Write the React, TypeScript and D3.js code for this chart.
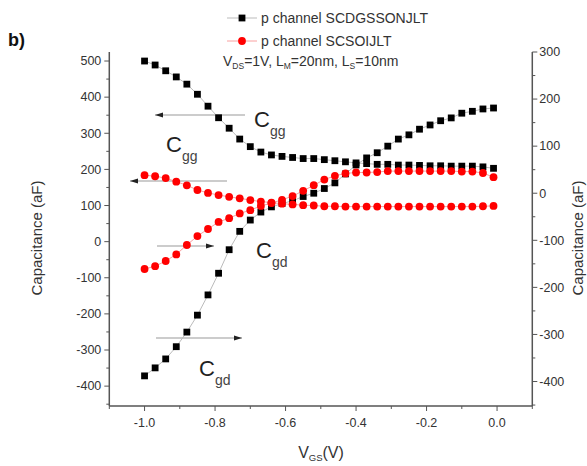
import React from "react";
import * as d3 from "d3";

// Gate voltage sweep (V)
const vgs = [
  -1.0, -0.97, -0.94, -0.91, -0.88, -0.85, -0.82, -0.79, -0.76, -0.73, -0.7, -0.67,
  -0.64, -0.61, -0.58, -0.55, -0.52, -0.49, -0.46, -0.43, -0.4, -0.37, -0.34, -0.31,
  -0.28, -0.25, -0.22, -0.19, -0.16, -0.13, -0.1, -0.07, -0.04, -0.01,
];

// Cgg (left axis, aF)
const cggDG = [
  500, 489, 473, 456, 436, 408, 375, 343, 314, 284, 263, 248, 240, 236, 233, 230, 230,
  227, 224, 221, 218, 216, 214, 214, 212, 212, 211, 210, 210, 209, 209, 209, 207, 203,
];
const cggSOI = [
  184, 181, 176, 166, 156, 143, 135, 129, 124, 120, 115, 111, 108, 105, 103, 101, 100,
  98, 98, 97, 97, 97, 97, 97, 97, 97, 97, 97, 97, 97, 97, 97, 98, 99,
];

// Cgd (right axis, aF)
const cgdDG = [
  -388, -371, -352, -326, -295, -259, -216, -170, -120, -81, -57, -40, -29, -22, -16, -7,
  0, 10, 22, 41, 60, 75, 86, 100, 115, 124, 136, 145, 154, 160, 170, 174, 179, 181,
];
const cgdSOI = [
  -161, -155, -144, -130, -110, -91, -76, -61, -53, -43, -36, -27, -21, -14, -6, 5, 17,
  29, 37, 42, 44, 44, 45, 47, 47, 47, 47, 47, 47, 47, 46, 46, 43, 34,
];

const xTicks = [-1.0, -0.8, -0.6, -0.4, -0.2, 0.0];
const leftTicks = [-400, -300, -200, -100, 0, 100, 200, 300, 400, 500];
const rightTicks = [-400, -300, -200, -100, 0, 100, 200, 300];
const legendNames = ["p channel SCDGSSONJLT", "p channel SCSOIJLT"];

const W = 587;
const H = 466;
const FONT = "Liberation Sans, Arial, sans-serif";
const TXT = "#333";
const AX = "#555";

export default function App() {
  const x = d3.scaleLinear().domain([-1.1, 0.1]).range([109.3, 532.3]);
  const yL = d3.scaleLinear().domain([-455, 525]).range([406, 52]);
  const yR = d3.scaleLinear().domain([-452, 300]).range([406, 52]);
  const top = 52;
  const bottom = 406;
  const left = x.range()[0];
  const right = x.range()[1];

  const mkLine = (ys: number[], sc: d3.ScaleLinear<number, number>) =>
    d3.line<number>().x((_, i) => x(vgs[i])).y((v) => sc(v))(ys) || "";

  const xMinor = d3.range(-11, 2).map((k) => k / 10);
  const lMinor = d3.range(-450, 526, 50);
  const rMinor = d3.range(-450, 301, 50);

  const squares = (ys: number[], sc: d3.ScaleLinear<number, number>) =>
    ys.map((v, i) => (
      <rect key={i} x={x(vgs[i]) - 3.4} y={sc(v) - 3.4} width={6.8} height={6.8} fill="#000" />
    ));
  const dots = (ys: number[], sc: d3.ScaleLinear<number, number>) =>
    ys.map((v, i) => <circle key={i} cx={x(vgs[i])} cy={sc(v)} r={3.9} fill="#f00" />);

  const arrow = (x1: number, x2: number, yy: number, dir: "left" | "right") => {
    const hx = dir === "left" ? x1 : x2;
    const s = dir === "left" ? 1 : -1;
    return (
      <g>
        <line x1={x1} x2={x2} y1={yy} y2={yy} stroke="#999" strokeWidth={1} />
        <path d={`M${hx},${yy} L${hx + s * 8},${yy - 2.5} L${hx + s * 8},${yy + 2.5} Z`} fill="#222" />
      </g>
    );
  };

  const cLabel = (cx: number, cy: number, sub: string) => (
    <text x={cx} y={cy} fontFamily={FONT} fill="#222" fontSize={22}>
      C
      <tspan fontSize={14} dy={9} fill="#444">
        {sub}
      </tspan>
    </text>
  );

  return (
    <svg width={W} height={H} style={{ position: "absolute", left: 0, top: 0, background: "#fff" }}>
      <text x={8} y={46} fontFamily={FONT} fontWeight="bold" fontSize={18} fill="#111">
        b)
      </text>

      {/* legend */}
      <g fontFamily={FONT} fontSize={14} fill={TXT}>
        <line x1={227} x2={257} y1={18} y2={18} stroke="#bbb" strokeWidth={1} />
        <rect x={238.6} y={14.6} width={6.8} height={6.8} fill="#000" />
        <text x={261} y={23}>{legendNames[0]}</text>
        <line x1={227} x2={257} y1={41} y2={41} stroke="#f9a0a0" strokeWidth={1} />
        <circle cx={242} cy={41} r={3.9} fill="#f00" />
        <text x={261} y={46}>{legendNames[1]}</text>
        <text x={223} y={66}>
          V<tspan fontSize={8.5} dy={3}>DS</tspan>
          <tspan dy={-3}>=1V, L</tspan>
          <tspan fontSize={8.5} dy={3}>M</tspan>
          <tspan dy={-3}>=20nm, L</tspan>
          <tspan fontSize={8.5} dy={3}>S</tspan>
          <tspan dy={-3}>=10nm</tspan>
        </text>
      </g>

      {/* axes */}
      <g stroke={AX} strokeWidth={1.5} fill="none">
        <line x1={left} x2={left} y1={top} y2={bottom} />
        <line x1={right} x2={right} y1={top} y2={bottom} />
        <line x1={left} x2={right} y1={bottom} y2={bottom} />
      </g>
      <g stroke={AX} strokeWidth={1}>
        {xMinor.map((t, i) => (
          <line key={i} x1={x(t)} x2={x(t)} y1={bottom} y2={bottom + (Math.round(t * 10) % 2 === 0 ? 5 : 3)} />
        ))}
        {lMinor.map((t, i) => (
          <line key={i} x1={left} x2={left - (t % 100 === 0 ? 5 : 3)} y1={yL(t)} y2={yL(t)} />
        ))}
        {rMinor.map((t, i) => (
          <line key={i} x1={right} x2={right + (t % 100 === 0 ? 5 : 3)} y1={yR(t)} y2={yR(t)} />
        ))}
      </g>
      <g fontFamily={FONT} fontSize={12.5} fill={TXT}>
        {xTicks.map((t) => (
          <text key={t} x={x(t)} y={427} textAnchor="middle">
            {t.toFixed(1)}
          </text>
        ))}
        {leftTicks.map((t) => (
          <text key={t} x={left - 8} y={yL(t) + 4.3} textAnchor="end">
            {t}
          </text>
        ))}
        {rightTicks.map((t) => (
          <text key={t} x={right + 7} y={yR(t) + 4.3} textAnchor="start">
            {t}
          </text>
        ))}
      </g>

      {/* axis titles */}
      <g fontFamily={FONT} fontSize={15} fill={TXT}>
        <text transform={`translate(42,238) rotate(-90)`} textAnchor="middle">
          Capacitance (aF)
        </text>
        <text transform={`translate(583,238) rotate(-90)`} textAnchor="middle">
          Capacitance (aF)
        </text>
        <text x={321} y={458} textAnchor="middle" fontSize={16}>
          V<tspan fontSize={9.5} dy={3}>GS</tspan>
          <tspan dy={-3}>(V)</tspan>
        </text>
      </g>

      {/* annotations */}
      {arrow(155, 245, 115, "left")}
      {arrow(130, 227, 181, "left")}
      {arrow(157, 214, 246, "right")}
      {arrow(156, 242, 338, "right")}
      {cLabel(254, 127, "gg")}
      {cLabel(166, 152, "gg")}
      {cLabel(256, 258, "gd")}
      {cLabel(199, 376, "gd")}

      {/* series */}
      <path d={mkLine(cggDG, yL)} fill="none" stroke="#bbb" strokeWidth={1} />
      <path d={mkLine(cgdDG, yR)} fill="none" stroke="#bbb" strokeWidth={1} />
      <path d={mkLine(cggSOI, yL)} fill="none" stroke="#f9a0a0" strokeWidth={1} />
      <path d={mkLine(cgdSOI, yR)} fill="none" stroke="#f9a0a0" strokeWidth={1} />
      {squares(cggDG, yL)}
      {squares(cgdDG, yR)}
      {dots(cggSOI, yL)}
      {dots(cgdSOI, yR)}
    </svg>
  );
}
